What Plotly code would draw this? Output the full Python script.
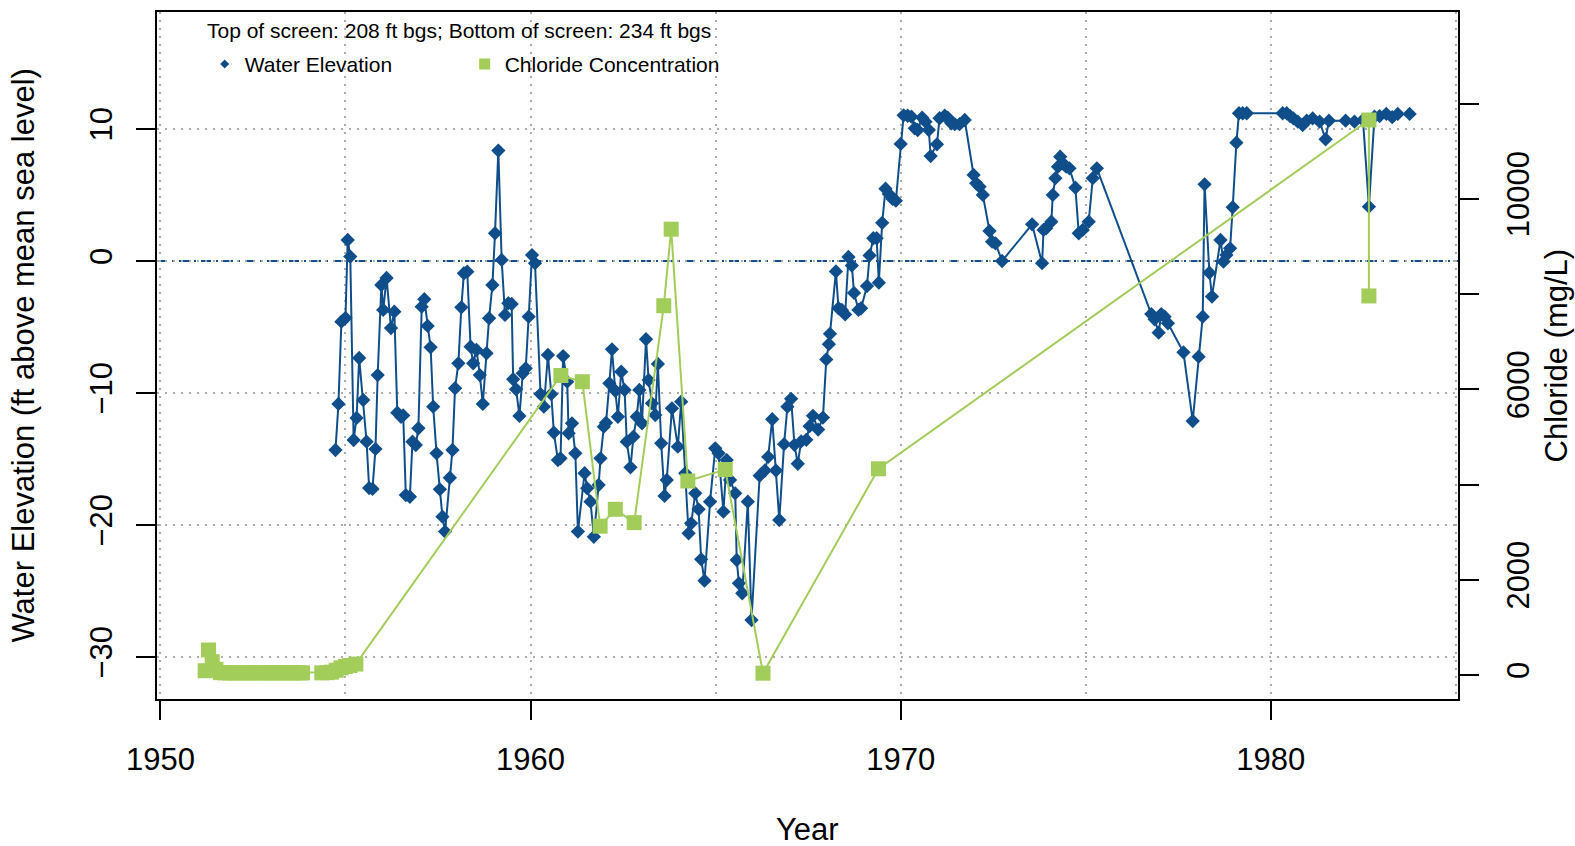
import plotly.graph_objects as go

# ---- Water elevation (ft above mean sea level) ----
elev_year = [
    1954.73, 1954.81, 1954.89, 1955.00, 1955.06, 1955.13, 1955.22, 1955.30, 1955.37, 1955.48,
    1955.57, 1955.64, 1955.73, 1955.81, 1955.87, 1955.97, 1956.02, 1956.11, 1956.23, 1956.32,
    1956.40, 1956.50, 1956.56, 1956.63, 1956.74, 1956.81, 1956.90, 1956.97, 1957.06, 1957.13,
    1957.22, 1957.30, 1957.37, 1957.46, 1957.55, 1957.62, 1957.69, 1957.82, 1957.89, 1957.96,
    1958.05, 1958.13, 1958.20, 1958.29, 1958.38, 1958.45, 1958.54, 1958.63, 1958.71, 1958.81,
    1958.88, 1958.97, 1959.04, 1959.13, 1959.22, 1959.31, 1959.40, 1959.49, 1959.53, 1959.61,
    1959.70, 1959.79, 1959.87, 1959.95, 1960.04, 1960.12, 1960.27, 1960.36, 1960.47, 1960.56,
    1960.63, 1960.74, 1960.81, 1960.88, 1960.99, 1961.03, 1961.12, 1961.21, 1961.28, 1961.46,
    1961.53, 1961.62, 1961.71, 1961.84, 1961.89, 1961.98, 1962.04, 1962.13, 1962.20, 1962.29,
    1962.36, 1962.45, 1962.54, 1962.60, 1962.70, 1962.78, 1962.87, 1962.94, 1963.01, 1963.12,
    1963.19, 1963.28, 1963.37, 1963.44, 1963.53, 1963.62, 1963.68, 1963.82, 1963.98, 1964.07,
    1964.18, 1964.27, 1964.34, 1964.45, 1964.54, 1964.61, 1964.70, 1964.85, 1964.99, 1965.08,
    1965.21, 1965.30, 1965.39, 1965.53, 1965.57, 1965.63, 1965.72, 1965.87, 1965.97, 1966.19,
    1966.33, 1966.42, 1966.53, 1966.63, 1966.72, 1966.85, 1966.94, 1967.04, 1967.13, 1967.22,
    1967.31, 1967.45, 1967.54, 1967.63, 1967.77, 1967.90, 1967.99, 1968.06, 1968.09, 1968.25,
    1968.32, 1968.41, 1968.50, 1968.59, 1968.68, 1968.74, 1968.86, 1968.93, 1969.09, 1969.16,
    1969.26, 1969.35, 1969.41, 1969.50, 1969.59, 1969.68, 1969.78, 1969.87, 1970.00, 1970.08,
    1970.19, 1970.29, 1970.38, 1970.46, 1970.58, 1970.67, 1970.76, 1970.81, 1970.98, 1971.05,
    1971.19, 1971.27, 1971.37, 1971.46, 1971.59, 1971.73, 1971.97, 1972.04, 1972.13, 1972.22,
    1972.40, 1972.47, 1972.56, 1972.74, 1973.55, 1973.82, 1973.86, 1973.93, 1974.07, 1974.11,
    1974.18, 1974.25, 1974.31, 1974.38, 1974.47, 1974.56, 1974.72, 1974.81, 1974.92, 1975.08,
    1975.19, 1975.30, 1976.77, 1976.86, 1976.97, 1977.04, 1977.13, 1977.22, 1977.64, 1977.89,
    1978.05, 1978.16, 1978.21, 1978.34, 1978.41, 1978.64, 1978.72, 1978.80, 1978.90, 1978.97,
    1979.07, 1979.14, 1979.24, 1979.35, 1980.32, 1980.43, 1980.52, 1980.61, 1980.73, 1980.86,
    1980.97, 1981.13, 1981.32, 1981.48, 1981.57, 1982.02, 1982.26, 1982.49, 1982.65, 1982.80,
    1982.94, 1983.12, 1983.28, 1983.43, 1983.75,
]
elev_ft = [
    -14.32, -10.83, -4.60, -4.32, 1.59, 0.33, -13.56, -11.89, -7.35, -10.53,
    -13.69, -17.20, -17.27, -14.24, -8.64, -1.82, -3.71, -1.29, -5.08, -3.84,
    -11.49, -11.80, -11.70, -17.73, -17.86, -13.69, -13.94, -12.67, -3.46, -2.90,
    -4.92, -6.54, -11.04, -14.57, -17.30, -19.37, -20.50, -16.42, -14.32, -9.64,
    -7.75, -3.51, -0.93, -0.81, -6.49, -7.75, -6.74, -8.64, -10.83, -6.99,
    -4.34, -1.82, 2.10, 8.36, 0.08, -4.09, -3.20, -3.26, -8.96, -9.72,
    -11.74, -8.51, -8.13, -4.22, 0.45, -0.17, -10.08, -11.04, -7.12, -10.08,
    -13.00, -15.08, -14.95, -7.20, -9.14, -13.05, -12.30, -14.57, -20.50, -16.08,
    -17.22, -18.23, -20.89, -16.97, -14.95, -12.55, -12.25, -9.27, -6.69, -9.83,
    -11.80, -8.39, -9.77, -13.69, -15.63, -13.31, -11.80, -9.77, -12.30, -5.93,
    -9.02, -10.78, -11.67, -7.80, -13.81, -17.80, -16.59, -11.16, -14.07, -10.66,
    -16.08, -20.63, -19.87, -17.60, -18.81, -22.60, -24.22, -18.23, -14.19, -14.57,
    -18.99, -15.08, -16.59, -17.60, -22.65, -24.42, -25.17, -18.23, -27.20, -16.26,
    -15.87, -14.84, -11.99, -15.87, -19.62, -13.88, -11.04, -10.44, -13.93, -15.36,
    -13.67, -13.55, -12.51, -11.73, -12.77, -11.86, -7.46, -6.30, -5.52, -0.79,
    -3.58, -3.71, -4.05, 0.30, -0.35, -2.42, -3.71, -3.58, -1.90, 0.42,
    1.72, 1.72, -1.64, 2.89, 5.47, 5.08, 4.70, 4.57, 8.87, 11.03,
    11.00, 10.93, 10.05, 9.92, 10.86, 10.55, 9.92, 7.95, 8.84, 10.81,
    11.00, 10.86, 10.43, 10.36, 10.36, 10.68, 6.52, 5.88, 5.63, 5.00,
    2.27, 1.46, 1.34, 0.00, 2.78, -0.17, 2.35, 2.48, 2.98, 5.00,
    6.27, 7.14, 7.90, 7.40, 7.14, 7.02, 5.55, 2.10, 2.35, 2.98,
    6.27, 7.02, -4.02, -4.42, -5.43, -4.02, -4.22, -4.72, -6.92, -12.12,
    -7.25, -4.22, 5.81, -0.89, -2.70, 1.59, -0.05, 0.45, 0.96, 4.07,
    8.96, 11.19, 11.19, 11.19, 11.19, 11.19, 10.98, 10.80, 10.55, 10.30,
    10.63, 10.80, 10.55, 9.22, 10.63, 10.63, 10.55, 10.68, 4.11, 10.93,
    10.98, 11.14, 10.89, 11.14, 11.14,
]

# ---- Chloride concentration (mg/L) ----
cl_year = [
    1951.21, 1951.30, 1951.40, 1951.50, 1951.62, 1951.75, 1951.88, 1952.00, 1952.12, 1952.25,
    1952.38, 1952.50, 1952.62, 1952.75, 1952.88, 1953.00, 1953.12, 1953.25, 1953.38, 1953.50,
    1953.62, 1953.75, 1953.84, 1954.36, 1954.50, 1954.62, 1954.75, 1954.88, 1955.00, 1955.12,
    1955.28, 1960.82, 1961.40, 1961.88, 1962.29, 1962.80, 1963.60, 1963.80, 1964.25, 1965.26,
    1966.28, 1969.40, 1982.65, 1982.65,
]
cl_mgl = [
    90, 525, 280, 120, 50, 45, 45, 45, 45, 45,
    45, 45, 45, 45, 45, 45, 45, 45, 45, 45,
    45, 45, 45, 45, 50, 60, 100, 150, 180, 200,
    230, 6290, 6159, 3125, 3480, 3200, 7755, 9362, 4074, 4315,
    38, 4330, 11655, 7960,
]

# ---- axes ----
x_ticks = [1950, 1960, 1970, 1980]
elev_ticks = [-30, -20, -10, 0, 10]
cl_ticks = [0, 2000, 4000, 6000, 8000, 10000, 12000]
cl_ticktext = ["0", "2000", "", "6000", "", "10000", ""]

title_text = "Top of screen: 208 ft bgs; Bottom of screen: 234 ft bgs"

BLUE = "#104E8B"
GREEN = "#A2CD5A"
GRID = "#ABABAB"
FONT = "Liberation Sans, Arial, Helvetica, sans-serif"

fig = go.Figure()

fig.add_trace(go.Scatter(
    x=elev_year, y=elev_ft, mode="lines+markers", name="Water Elevation",
    line=dict(color=BLUE, width=2),
    marker=dict(symbol="diamond", size=11, color=BLUE),
    showlegend=False, yaxis="y",
))
fig.add_trace(go.Scatter(
    x=cl_year, y=cl_mgl, mode="lines+markers", name="Chloride Concentration",
    line=dict(color=GREEN, width=2),
    marker=dict(symbol="square", size=15, color=GREEN),
    showlegend=False, yaxis="y2",
))
# legend entries
fig.add_trace(go.Scatter(
    x=[None], y=[None], mode="markers", name="Water Elevation",
    marker=dict(symbol="diamond", size=7, color=BLUE), yaxis="y",
))
fig.add_trace(go.Scatter(
    x=[None], y=[None], mode="markers", name="Chloride Concentration",
    marker=dict(symbol="square", size=11, color=GREEN), yaxis="y2",
))

fig.add_hline(y=0, line=dict(color=BLUE, width=2, dash="10px,5px,2px,5px"), layer="below")

# plot box at page px (157.3,12)-(1458.5,699); body margin removed below
W, H = 1575, 846
plot_l, plot_r, plot_t, plot_b = 157.3, 1458.5, 12, 699
plot_w, plot_h = plot_r - plot_l, plot_b - plot_t

fig.update_layout(
    width=W, height=H,
    margin=dict(l=plot_l, r=W - plot_r, t=plot_t, b=H - plot_b, pad=0, autoexpand=False),
    paper_bgcolor="white", plot_bgcolor="white",
    font=dict(family=FONT, color="black", size=31),
    xaxis=dict(
        range=[1949.908, 1985.057], tickvals=x_ticks, ticks="outside", ticklen=19, tickwidth=2,
        tickcolor="black", showline=True, linecolor="black", linewidth=2, mirror=True,
        showgrid=True, gridcolor=GRID, gridwidth=1.5, griddash="2px,6px", zeroline=False,
        tickfont=dict(size=31), ticklabelstandoff=13,
        minor=dict(dtick=5, tick0=1950, showgrid=True, gridcolor=GRID, gridwidth=1.5,
                   griddash="2px,6px", ticks=""),
    ),
    yaxis=dict(
        range=[-33.18, 18.86], tickvals=elev_ticks, ticks="outside", ticklen=19, tickwidth=2,
        tickcolor="black", showline=True, linecolor="black", linewidth=2, mirror=False,
        showgrid=True, gridcolor=GRID, gridwidth=1.5, griddash="2px,6px", zeroline=False,
        tickangle=-90, tickfont=dict(size=31), ticklabelstandoff=12,
    ),
    yaxis2=dict(
        range=[-504, 13923], overlaying="y", side="right", tickvals=cl_ticks, ticktext=cl_ticktext,
        ticks="outside", ticklen=19, tickwidth=2, tickcolor="black", showline=True,
        linecolor="black", linewidth=2, showgrid=False, zeroline=False,
        tickangle=-90, tickfont=dict(size=31), ticklabelstandoff=13,
    ),
    legend=dict(
        orientation="h", x=(205 - plot_l) / plot_w, y=1 - (64.3 - plot_t) / plot_h,
        xanchor="left", yanchor="middle",
        bgcolor="rgba(0,0,0,0)", borderwidth=0, font=dict(size=21),
        entrywidth=215, entrywidthmode="pixels", itemsizing="trace",
    ),
    annotations=[
        dict(text=title_text, x=(206 - plot_l) / plot_w, y=1 - (30.5 - plot_t) / plot_h,
             xref="paper", yref="paper", showarrow=False, xanchor="left", yanchor="middle",
             font=dict(size=21), borderpad=0),
        dict(text="Year", x=0.5, y=0, xref="paper", yref="paper", showarrow=False,
             xanchor="center", yanchor="middle", yshift=-130, font=dict(size=31), borderpad=0),
        dict(text="Water Elevation (ft above mean sea level)", x=0, y=0.5, xref="paper",
             yref="paper", showarrow=False, textangle=-90, xanchor="center", yanchor="middle",
             xshift=-134, font=dict(size=31), borderpad=0),
        dict(text="Chloride (mg/L)", x=1, y=0.5, xref="paper", yref="paper", showarrow=False,
             textangle=-90, xanchor="center", yanchor="middle", xshift=98, font=dict(size=31),
             borderpad=0),
    ],
)

fig.write_html("out.html", config={"displayModeBar": False},
               post_script="document.body.style.margin='0px';")
